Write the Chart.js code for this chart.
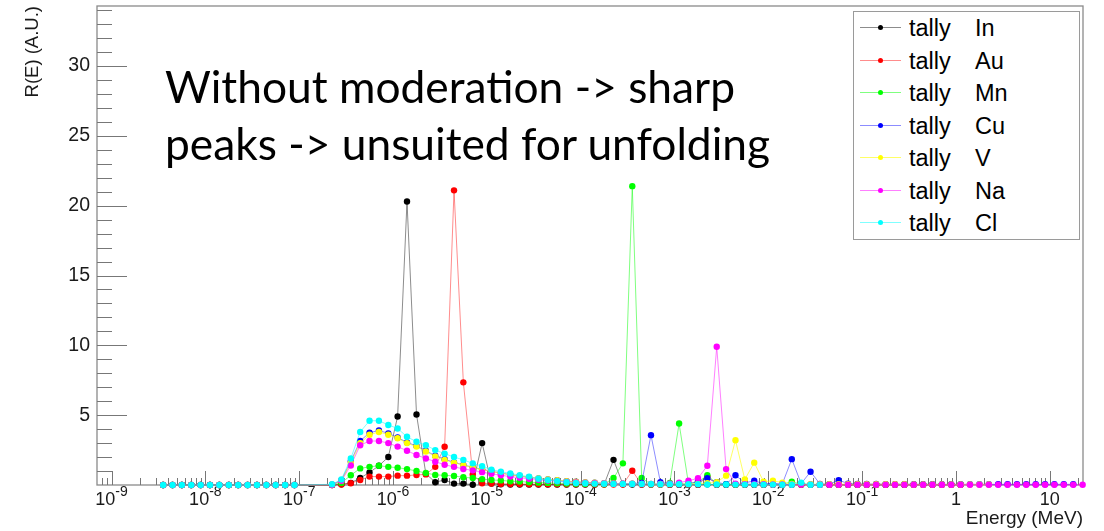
<!DOCTYPE html>
<html>
<head>
<meta charset="utf-8">
<script src="https://cdn.jsdelivr.net/npm/chart.js@4.4.1/dist/chart.umd.min.js"></script>
<style>
  body { margin: 0; background: #fff; }
  #wrap { position: relative; width: 1104px; height: 531px; }
  #note { position: absolute; left: 165px; top: 57px; font-family: Lato, 'Open Sans', sans-serif;
          font-size: 44.3px; line-height: 57px; color: #000; white-space: nowrap; }
  #legend { position: absolute; left: 853px; top: 11px; width: 227px; height: 229px;
            border: 1.5px solid #9a9a9a; background: #fff; box-sizing: border-box;
            font-family: 'Liberation Sans', Arial, sans-serif; font-size: 23.5px; color: #000; }
  .row { position: absolute; left: 0; width: 220px; height: 26px; line-height: 26px; }
  .sw { position: absolute; left: 6px; top: 12px; width: 41px; height: 1px; }
  .dot { position: absolute; left: 24px; top: 10px; width: 5px; height: 5px; border-radius: 50%; }
  .t1 { position: absolute; left: 55px; }
  .t2 { position: absolute; left: 121px; }
</style>
</head>
<body>
<div id="wrap">
  <canvas id="chart" width="1104" height="531"></canvas>
  <div id="note">Without moderation -&gt; sharp<br>peaks -&gt; unsuited for unfolding</div>
  <div id="legend"></div>
</div>
<script>
// bin centres (MeV), 10 bins per decade
var energy = [
  3.55e-9, 4.47e-9, 5.62e-9, 7.08e-9, 8.91e-9, 1.12e-8, 1.41e-8, 1.78e-8, 2.24e-8, 2.82e-8,
  3.55e-8, 4.47e-8, 5.62e-8, 7.08e-8, 8.91e-8, 1.12e-7, 1.41e-7, 1.78e-7, 2.24e-7, 2.82e-7,
  3.55e-7, 4.47e-7, 5.62e-7, 7.08e-7, 8.91e-7, 1.12e-6, 1.41e-6, 1.78e-6, 2.24e-6, 2.82e-6,
  3.55e-6, 4.47e-6, 5.62e-6, 7.08e-6, 8.91e-6, 1.12e-5, 1.41e-5, 1.78e-5, 2.24e-5, 2.82e-5,
  3.55e-5, 4.47e-5, 5.62e-5, 7.08e-5, 8.91e-5, 1.12e-4, 1.41e-4, 1.78e-4, 2.24e-4, 2.82e-4,
  3.55e-4, 4.47e-4, 5.62e-4, 7.08e-4, 8.91e-4, 1.12e-3, 1.41e-3, 1.78e-3, 2.24e-3, 2.82e-3,
  3.55e-3, 4.47e-3, 5.62e-3, 7.08e-3, 8.91e-3, 1.12e-2, 1.41e-2, 1.78e-2, 2.24e-2, 2.82e-2,
  3.55e-2, 4.47e-2, 5.62e-2, 7.08e-2, 8.91e-2, 1.12e-1, 1.41e-1, 1.78e-1, 2.24e-1, 2.82e-1,
  3.55e-1, 4.47e-1, 5.62e-1, 7.08e-1, 8.91e-1, 1.12, 1.41, 1.78, 2.24, 2.82,
  3.55, 4.47, 5.62, 7.08, 8.91, 11.2, 14.1, 17.8, 22.4
];

var tallyIn = [
  0, 0, 0, 0, 0, 0, 0, 0, 0, 0,
  0, 0, 0, 0, 0, null, null, null, 0, 0.05,
  0.15, 0.5, 0.9, 1.38, 2.0, 4.9, 20.3, 5.05, 0.8, 0.2,
  0.36, 0.1, 0.1, 0.02, 3.0, 0.1, 0.05, 0.04, 0.04, 0.03,
  0.03, 0.03, 0.03, 0.03, 0.03, 0.03, 0.03, 0.05, 1.8, 0.05,
  0.03, 0.03, 0.03, 0.03, 0.02, 0.02, 0.02, 0.02, 0.05, 0.02,
  0.02, 0.02, 0.02, 0.02, 0.02, 0.02, 0.02, 0.02, 0.02, 0.02,
  0.02, 0.02, 0.02, 0.02, 0.02, 0.02, 0.02, 0.02, 0.02, 0.02,
  0.02, 0.02, 0.02, 0.02, 0.02, 0.02, null, null, null, null,
  null, null, null, null, null, null, null, null, null
];
var tallyAu = [
  0, 0, 0, 0, 0, 0, 0, 0, 0, 0,
  0, 0, 0, 0, 0, null, null, null, 0, 0.03,
  0.12, 0.36, 0.6, 0.6, 0.6, 0.67, 0.67, 0.72, 0.76, 1.3,
  2.74, 21.1, 7.35, 0.76, 0.12, 0.1, 0.08, 0.07, 0.07, 0.06,
  0.06, 0.05, 0.05, 0.05, 0.05, 0.05, 0.04, 0.04, 0.04, 0.04,
  1.02, 0.04, 0.03, 0.03, 0.03, 0.03, 0.03, 0.03, 0.6, 0.03,
  0.03, 0.03, 0.03, 0.03, 0.03, 0.03, 0.03, 0.03, 0.03, 0.03,
  0.02, 0.02, 0.02, 0.02, 0.02, 0.02, 0.02, 0.02, 0.02, 0.02,
  0.02, 0.02, 0.02, 0.02, 0.02, 0.02, null, null, null, null,
  null, null, null, null, null, null, null, null, null
];
var tallyMn = [
  0, 0, 0, 0, 0, 0, 0, 0, 0, 0,
  0, 0, 0, 0, 0, null, null, null, 0.02, 0.15,
  0.7, 1.19, 1.3, 1.38, 1.3, 1.24, 1.14, 1.0, 0.86, 0.72,
  0.7, 0.64, 0.55, 0.5, 0.42, 0.36, 0.33, 0.27, 0.25, 0.2,
  0.17, 0.15, 0.12, 0.1, 0.09, 0.08, 0.07, 0.06, 0.5, 1.55,
  21.4, 0.5, 0.05, 0.05, 0.15, 4.4, 0.1, 0.2, 0.7, 0.1,
  0.05, 0.05, 0.05, 0.05, 0.05, 0.05, 0.05, 0.24, 0.05, 0.04,
  0.04, 0.04, 0.04, 0.04, 0.04, 0.04, 0.04, 0.04, 0.04, 0.04,
  0.03, 0.03, 0.03, 0.03, 0.03, 0.03, null, null, null, null,
  null, null, null, null, null, null, null, null, null
];
var tallyCu = [
  0, 0, 0, 0, 0, 0, 0, 0, 0, 0,
  0, 0, 0, 0, 0, null, null, null, 0.03, 0.35,
  1.7, 3.15, 3.75, 3.9, 3.7, 3.4, 3.05, 2.8, 2.45, 2.1,
  1.85, 1.62, 1.44, 1.27, 1.12, 0.98, 0.86, 0.74, 0.64, 0.55,
  0.47, 0.4, 0.34, 0.28, 0.23, 0.19, 0.16, 0.13, 0.11, 0.1,
  0.09, 0.15, 3.57, 0.2, 0.08, 0.06, 0.08, 0.25, 0.48, 0.2,
  0.05, 0.7, 0.15, 0.3, 0.1, 0.1, 0.08, 1.85, 0.1, 0.95,
  0.08, 0.06, 0.35, 0.1, 0.08, 0.07, 0.07, 0.06, 0.06, 0.06,
  0.06, 0.06, 0.05, 0.05, 0.05, 0.05, 0.05, 0.05, 0.05, 0.05,
  0.05, 0.05, 0.05, 0.05, 0.05, 0.05, 0.05, 0.05, null
];
var tallyV = [
  0, 0, 0, 0, 0, 0, 0, 0, 0, 0,
  0, 0, 0, 0, 0, null, null, null, 0.03, 0.3,
  1.6, 3.0, 3.6, 3.8, 3.6, 3.35, 3.0, 2.75, 2.4, 2.05,
  1.8, 1.6, 1.42, 1.25, 1.1, 0.97, 0.85, 0.73, 0.63, 0.55,
  0.47, 0.4, 0.34, 0.28, 0.23, 0.19, 0.16, 0.13, 0.11, 0.1,
  0.09, 0.08, 0.08, 0.07, 0.07, 0.08, 0.08, 0.1, 0.12, 0.2,
  0.67, 3.2, 0.4, 1.6, 0.24, 0.3, 0.17, 0.08, 0.06, 0.05,
  0.05, 0.05, 0.05, 0.05, 0.05, 0.05, 0.05, 0.05, 0.05, 0.05,
  0.04, 0.04, 0.04, 0.04, 0.04, 0.04, 0.04, 0.04, 0.04, null,
  null, null, null, null, null, null, null, null, null
];
var tallyNa = [
  0, 0, 0, 0, 0, 0, 0, 0, 0, 0,
  0, 0, 0, 0, 0, null, null, null, 0.02, 0.3,
  1.4, 2.85, 3.15, 3.15, 3.0, 2.75, 2.45, 2.15, 1.9, 1.67,
  1.45, 1.3, 1.15, 1.05, 0.92, 0.8, 0.7, 0.6, 0.52, 0.45,
  0.38, 0.32, 0.27, 0.22, 0.18, 0.15, 0.13, 0.11, 0.1, 0.09,
  0.08, 0.08, 0.07, 0.07, 0.1, 0.17, 0.3, 0.48, 1.38, 9.9,
  1.14, 0.1, 0.06, 0.05, 0.05, 0.04, 0.04, 0.03, 0.03, 0.03,
  0.02, 0.02, 0.02, 0.02, 0.02, 0.02, 0.02, 0.02, 0.02, 0.02,
  0.02, 0.02, 0.02, 0.02, 0.02, 0.02, 0.02, 0.02, 0.02, 0.02,
  0.02, 0.02, 0.02, 0.02, 0.02, 0.02, 0.02, 0.02, 0.02
];
var tallyCl = [
  0, 0, 0, 0, 0, 0, 0, 0, 0, 0,
  0, 0, 0, 0, 0, null, null, null, 0.05, 0.4,
  1.9, 3.8, 4.6, 4.6, 4.3, 4.05, 3.45, 3.1, 2.85, 2.5,
  2.25, 2.0, 1.8, 1.55, 1.35, 1.1, 0.95, 0.83, 0.7, 0.6,
  0.45, 0.35, 0.28, 0.2, 0.14, 0.12, 0.1, 0.09, 0.08, 0.08,
  0.08, 0.07, 0.07, 0.06, 0.06, 0.05, 0.05, 0.05, 0.04, 0.04,
  0.04, 0.03, 0.03, 0.03, 0.03, 0.03, 0.02, 0.02, 0.17, 0.02,
  0.02, null, null, null, null, null, null, null, null, null,
  null, null, null, null, null, null, null, null, null, null,
  null, null, null, null, null, null, null, null, null
];

var elements = ['In', 'Au', 'Mn', 'Cu', 'V', 'Na', 'Cl'];
var series = [tallyIn, tallyAu, tallyMn, tallyCu, tallyV, tallyNa, tallyCl];
var colors = ['rgb(0,0,0)', 'rgb(255,0,0)', 'rgb(0,255,0)', 'rgb(0,0,255)',
              'rgb(255,255,0)', 'rgb(255,0,255)', 'rgb(0,255,255)'];
var lineColors = ['rgba(0,0,0,0.45)', 'rgba(255,0,0,0.45)', 'rgba(0,255,0,0.5)', 'rgba(0,0,255,0.45)',
                  'rgba(255,255,0,0.6)', 'rgba(255,0,255,0.5)', 'rgba(0,255,255,0.5)'];

// decade ticks: base + exponent, as ROOT prints them
var xDecades = [1e-9, 1e-8, 1e-7, 1e-6, 1e-5, 1e-4, 1e-3, 1e-2, 1e-1, 1, 10];
var xDecadeBase = ['10', '10', '10', '10', '10', '10', '10', '10', '10', '1', '10'];
var xDecadeExp = ['-9', '-8', '-7', '-6', '-5', '-4', '-3', '-2', '-1', '', ''];
var xMin = 7.2e-10, xMax = 22.6;
var yMax = 34.3;

var fontFam = "'Liberation Sans', Arial, sans-serif";

// ROOT-like frame with inward ticks and superscript decade labels
var rootFrame = {
  id: 'rootFrame',
  beforeDatasetsDraw: function(chart) {
    var ctx = chart.ctx, a = chart.chartArea;
    var xs = chart.scales.x, ys = chart.scales.y;
    ctx.save();
    ctx.strokeStyle = '#8a8a8a';
    ctx.lineWidth = 1.3;
    ctx.strokeRect(a.left, a.top, a.right - a.left, a.bottom - a.top);
    ctx.lineWidth = 1;
    ctx.strokeStyle = '#777';
    ctx.beginPath();
    xs.ticks.forEach(function(t) {
      var px = Math.round(xs.getPixelForValue(t.value)) + 0.5;
      var len = t.major ? 14 : 7;
      ctx.moveTo(px, a.bottom);
      ctx.lineTo(px, a.bottom - len);
    });
    ys.ticks.forEach(function(t) {
      if (t.value === 0) return;
      var py = Math.round(ys.getPixelForValue(t.value)) + 0.5;
      var len = t.value % 5 === 0 ? 30 : 15;
      ctx.moveTo(a.left, py);
      ctx.lineTo(a.left + len, py);
    });
    ctx.stroke();

    ctx.fillStyle = '#1a1a1a';
    ctx.textBaseline = 'alphabetic';
    ctx.textAlign = 'left';
    xDecades.forEach(function(v, i) {
      var px = xs.getPixelForValue(v);
      ctx.font = '18px ' + fontFam;
      var wb = ctx.measureText(xDecadeBase[i]).width;
      ctx.font = '14px ' + fontFam;
      var we = xDecadeExp[i] ? ctx.measureText(xDecadeExp[i]).width : 0;
      var x0 = px - (wb + we) / 2;
      ctx.font = '18px ' + fontFam;
      ctx.fillText(xDecadeBase[i], x0, a.bottom + 20);
      if (we) {
        ctx.font = '14px ' + fontFam;
        ctx.fillText(xDecadeExp[i], x0 + wb, a.bottom + 11);
      }
    });
    ctx.restore();
  }
};

var datasets = series.map(function(vals, i) {
  return {
    label: 'tally ' + elements[i],
    data: energy.map(function(e, k) { return {x: e, y: vals[k]}; }),
    borderColor: lineColors[i],
    backgroundColor: colors[i],
    pointBackgroundColor: colors[i],
    pointBorderWidth: 0,
    pointRadius: 3.2,
    pointHoverRadius: 3.2,
    borderWidth: 1,
    tension: 0,
    spanGaps: true,
    clip: 8,
    order: series.length - i
  };
});

var chart = new Chart(document.getElementById('chart').getContext('2d'), {
  type: 'line',
  data: {datasets: datasets},
  options: {
    responsive: false,
    animation: false,
    devicePixelRatio: 1,
    layout: {padding: {top: 6, right: 21, left: 0, bottom: 0}},
    plugins: {legend: {display: false}, tooltip: {enabled: false}},
    scales: {
      x: {
        type: 'logarithmic',
        min: xMin,
        max: xMax,
        grid: {display: false, drawTicks: false},
        border: {display: false},
        afterBuildTicks: function(scale) {
          var ticks = [];
          for (var d = 0; d < xDecades.length; d++) {
            var dec = xDecades[d] / 10;
            for (var m = 2; m <= 9; m++) {
              var v = m * dec;
              if (v >= xMin && v <= xMax) ticks.push({value: v, major: false});
            }
            ticks.push({value: xDecades[d], major: true});
          }
          for (var m2 = 2; m2 * 10 <= xMax; m2++) ticks.push({value: m2 * 10, major: false});
          scale.ticks = ticks;
        },
        afterFit: function(scale) {
          scale.height = 46;
          scale.paddingLeft = 0;
          scale.paddingRight = 0;
        },
        ticks: {display: false, autoSkip: false, maxRotation: 0},
        title: {
          display: true,
          text: 'Energy (MeV)',
          align: 'end',
          color: '#1a1a1a',
          font: {family: fontFam, size: 19},
          padding: {top: 0, bottom: 1}
        }
      },
      y: {
        min: 0,
        max: yMax,
        grid: {display: false, drawTicks: false},
        border: {display: false},
        afterBuildTicks: function(scale) {
          var ticks = [];
          for (var v = 0; v <= 34; v++) ticks.push({value: v});
          scale.ticks = ticks;
        },
        afterFit: function(scale) {
          scale.width = 97;
          scale.paddingTop = 0;
          scale.paddingBottom = 0;
        },
        ticks: {
          autoSkip: false,
          padding: 7,
          color: '#1a1a1a',
          font: {family: fontFam, size: 19.5},
          callback: function(v) { return (v > 0 && v % 5 === 0) ? String(v) : ''; }
        },
        title: {
          display: true,
          text: 'R(E) (A.U.)',
          align: 'end',
          color: '#1a1a1a',
          font: {family: fontFam, size: 18.5},
          padding: {top: 22, bottom: 0}
        }
      }
    }
  },
  plugins: [rootFrame]
});

// legend box, built from the same names and colours
var legend = document.getElementById('legend');
elements.forEach(function(el, i) {
  var row = document.createElement('div');
  row.className = 'row';
  row.style.top = (3 + 32.5 * i) + 'px';
  row.innerHTML = '<div class="sw" style="background:' + lineColors[i] + '"></div>' +
                  '<div class="dot" style="background:' + colors[i] + '"></div>' +
                  '<span class="t1">tally</span><span class="t2">' + el + '</span>';
  legend.appendChild(row);
});
</script>
</body>
</html>
